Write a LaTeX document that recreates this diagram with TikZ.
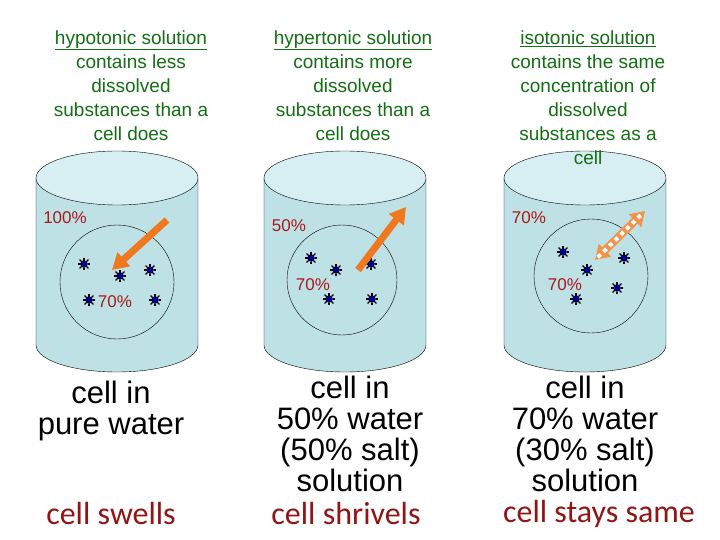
\documentclass[tikz,border=0pt]{standalone}
\usepackage{fontspec}
\setmainfont{Liberation Sans}
\newfontfamily\calib{Carlito}
\usetikzlibrary{arrows.meta}
\definecolor{hdr}{RGB}{20,110,20}
\definecolor{cylf}{RGB}{190,225,230}
\definecolor{cyltop}{RGB}{215,238,242}
\definecolor{pct}{RGB}{170,25,25}
\definecolor{star}{RGB}{0,0,140}
\definecolor{arr}{RGB}{240,120,30}
\tikzset{
 hdrtxt/.style={font=\fontsize{19}{24}\selectfont, text=hdr, align=center, anchor=north},
 pcttxt/.style={font=\fontsize{17}{17}\selectfont, text=pct},
 captxt/.style={font=\fontsize{31}{31}\selectfont, align=center, anchor=north},
 restxt/.style={font=\calib\fontsize{32}{32}\selectfont, text=pct!85!black},
 starnode/.style={circle, fill=star, draw=black, inner sep=0pt, minimum size=7pt,
   append after command={\pgfextra{\foreach \a in {0,45,...,315}
     \draw[black, line width=1.3pt] (\tikzlastnode.center) ++(\a:3.5pt) -- ++(\a:2.8pt);}}},
 cellc/.style={draw, circle, inner sep=0pt},
}
\newcommand\cylinder[2]{%
 \fill[cylf] (#1-81,178) rectangle (#1+81,345);
 \fill[cylf] (#1,345) ellipse [x radius=81, y radius=27];
 \draw (#1-81,178) -- (#1-81,345) arc[start angle=180,end angle=0,x radius=81,y radius=27] -- (#1+81,178);
 \draw[fill=cyltop] (#1,178) ellipse [x radius=81, y radius=27];
 \coordinate (#2) at (#1,178);
}
\begin{document}
\begin{tikzpicture}[x=1pt,y=-1pt]
\useasboundingbox (0,0) rectangle (720,540);
\fill[white] (0,0) rectangle (720,540);
\cylinder{117}{c1}
\cylinder{345}{c2}
\cylinder{585}{c3}
\node[hdrtxt] (h1) at (131,27) {\underline{hypotonic solution}\\contains less\\dissolved\\substances than a\\cell does};
\node[hdrtxt] (h2) at (353,27) {\underline{hypertonic solution}\\contains more\\dissolved\\substances than a\\cell does};
\node[hdrtxt] (h3) at (588,27) {\underline{isotonic solution}\\contains the same\\concentration of\\dissolved\\substances as a\\cell};
\node[cellc, minimum size=114pt] (cell1) at (117,282) {};
\node[cellc, minimum size=110pt] (cell2) at (342,280) {};
\node[cellc, minimum size=114pt] (cell3) at (591,276) {};
\foreach \p [count=\i] in {(84,264),(120,276),(150,270),(89,300),(155,300),
 (311,258),(336,270),(371,264),(329,299),(372,299),
 (563,252),(587,270),(624,258),(576,299),(617,288)}
 \node[starnode] (s\i) at \p {};
\node[pcttxt] (p1) at (65,218) {100\%};
\node[pcttxt] (p2) at (115,302) {70\%};
\node[pcttxt] (p3) at (289,226) {50\%};
\node[pcttxt] (p4) at (313,285) {70\%};
\node[pcttxt] (p5) at (529,218) {70\%};
\node[pcttxt] (p6) at (565,285) {70\%};
\coordinate (a1s) at (167,220); \coordinate (a1e) at (112,270);
\coordinate (a2s) at (358,270); \coordinate (a2e) at (406,207);
\coordinate (a3s) at (595,260); \coordinate (a3e) at (645,211);
\draw[-{Triangle[width=18pt,length=16pt,fill=arr]}, line width=7pt, draw=arr] (a1s) -- (a1e);
\draw[-{Triangle[width=18pt,length=16pt,fill=arr]}, line width=7pt, draw=arr] (a2s) -- (a2e);
\draw[{Triangle[width=17pt,length=14pt]}-{Triangle[width=17pt,length=14pt]}, line width=8pt, draw=arr!80] (a3s) -- (a3e);
\draw[line width=4pt, draw=white, dash pattern=on 4pt off 4pt, shorten <=4pt, shorten >=4pt] (a3s) -- (a3e);
\node[captxt] (t1) at (111,378) {cell in\\pure water};
\node[captxt] (t2) at (350,373) {cell in\\50\% water\\(50\% salt)\\solution};
\node[captxt] (t3) at (585,373) {cell in\\70\% water\\(30\% salt)\\solution};
\node[restxt] (r1) at (111,514) {cell swells};
\node[restxt] (r2) at (346,514) {cell shrivels};
\node[restxt] (r3) at (599,514) {cell stays same};
\end{tikzpicture}
\end{document}
